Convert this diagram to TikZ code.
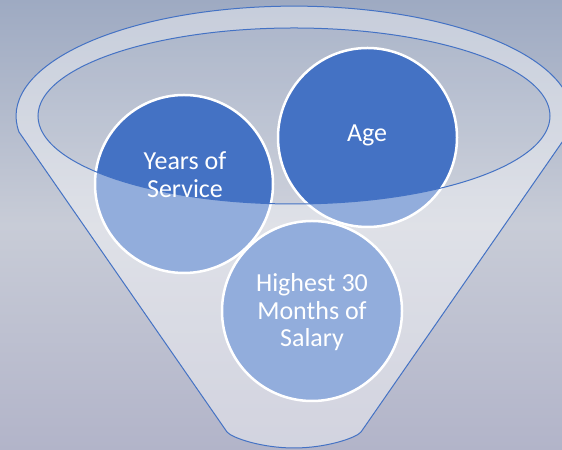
\documentclass[tikz,border=0pt]{standalone}
\usepackage{fontspec}
\setmainfont{Carlito}
\definecolor{bgtop}{HTML}{9EAAC2}
\definecolor{bgmid}{HTML}{C8CCD7}
\definecolor{bgbot}{HTML}{B2B4C9}
\definecolor{accent}{HTML}{4472C4}
\tikzset{
  x=1bp, y=1bp,
  bubble/.style={circle, fill=accent, draw=white, line width=2.5bp, inner sep=0pt},
  outline/.style={draw=accent, line width=1bp},
  label/.style={text=white, font=\fontsize{26bp}{28bp}\selectfont, anchor=base, inner sep=0pt}
}
\begin{document}
\begin{tikzpicture}
\useasboundingbox (0,0) rectangle (562,450);
% background
\shade[top color=bgtop, bottom color=bgbot, middle color=bgmid] (0,0) rectangle (562,450);
% inner opening
\fill[white, fill opacity=0.12] (294,334) ellipse [x radius=256, y radius=88];
% circles
\node[bubble, minimum size=178bp] (yos) at (184,266) {};
\node[bubble, minimum size=179bp] (age) at (367.5,312.5) {};
\node[bubble, minimum size=180bp] (sal) at (312,139) {};
% funnel front overlay
\path[fill=white, fill opacity=0.42, even odd rule]
  (19,318) arc[start angle=188.3, end angle=-8.3, x radius=278, y radius=110]
  -- (361,18) .. controls (356,12) and (326,2) .. (294,2)
  .. controls (262,2) and (232,12) .. (227,18) -- cycle
  (294,334) ellipse [x radius=256, y radius=88];
% funnel outlines
\draw[outline]
  (19,318) arc[start angle=188.3, end angle=-8.3, x radius=278, y radius=110]
  -- (361,18) .. controls (356,12) and (326,2) .. (294,2)
  .. controls (262,2) and (232,12) .. (227,18) -- cycle;
\draw[outline] (294,334) ellipse [x radius=256, y radius=88];
% texts
\node[label] (yos1) at (185,280) {Years of};
\node[label] (yos2) at (185,252) {Service};
\node[label] (age1) at (367,308) {Age};
\node[label] (sal1) at (312,158) {Highest 30};
\node[label] (sal2) at (312,130) {Months of};
\node[label] (sal3) at (312,103) {Salary};
\end{tikzpicture}
\end{document}
